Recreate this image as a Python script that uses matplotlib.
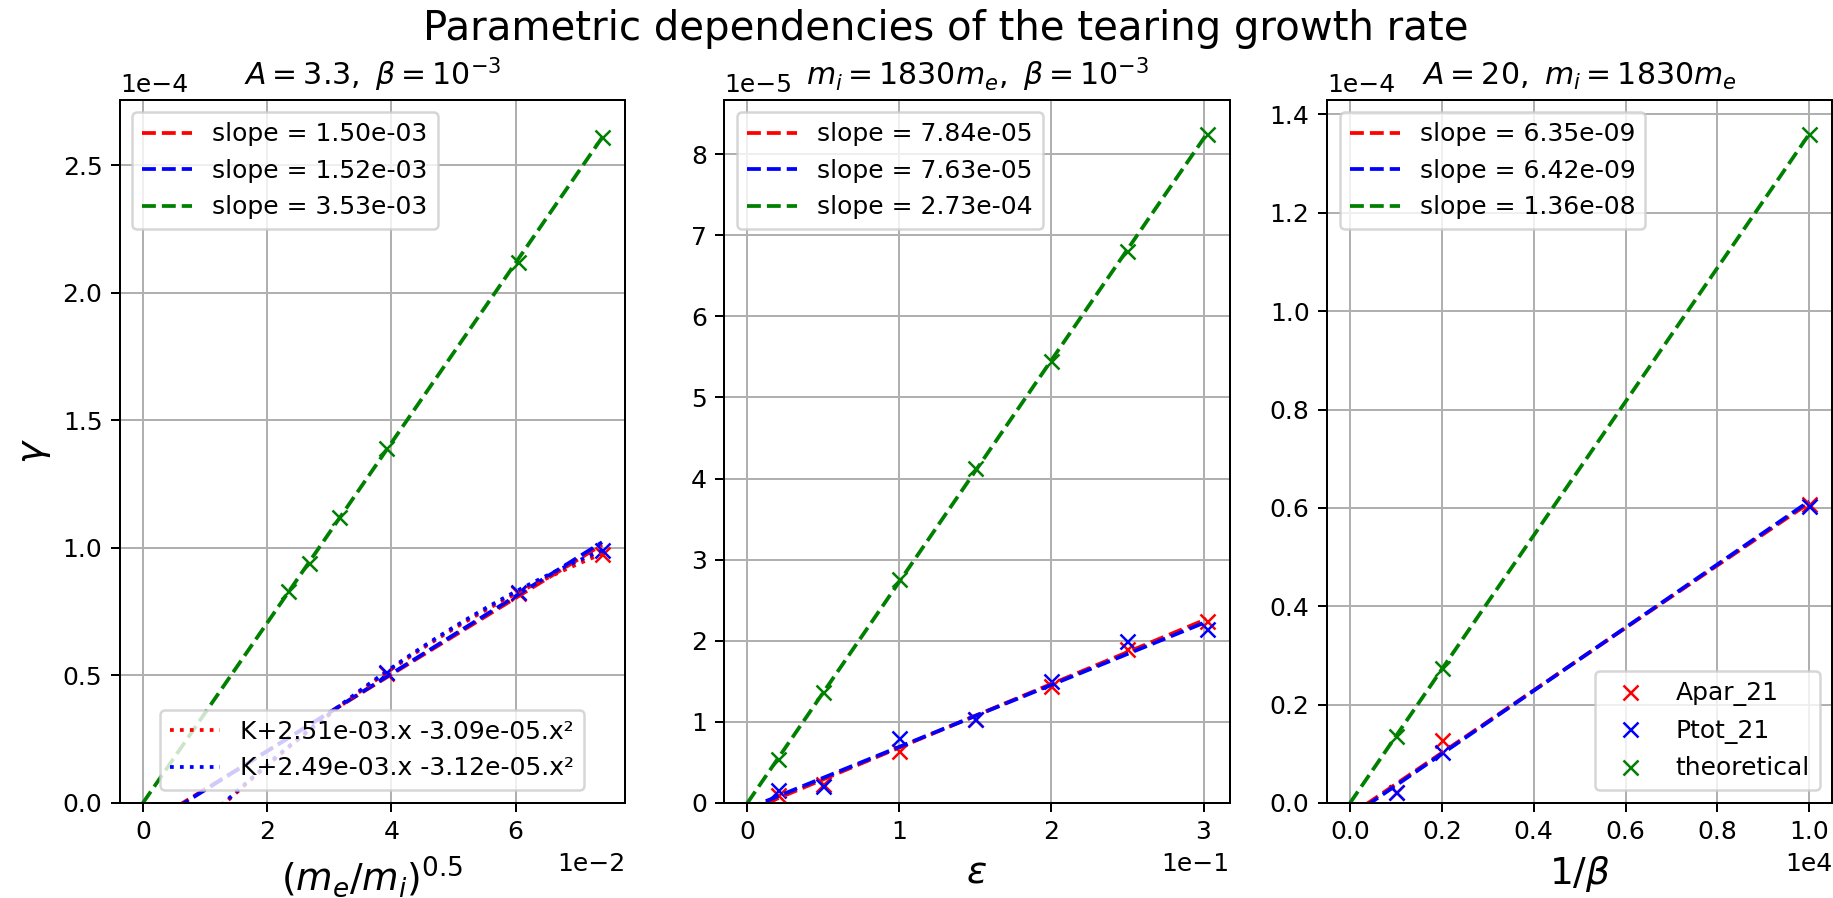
import numpy as np
import matplotlib
matplotlib.use('Agg')
import matplotlib.pyplot as plt

# Scan 1: mass ratio (A = 3.3, beta = 1e-3)
sqrt_me_mi = np.array([0.0234, 0.0267, 0.0316, 0.0392, 0.0603, 0.0739])
gam_theo_mass = np.array([0.83e-4, 0.94e-4, 1.12e-4, 1.39e-4, 2.12e-4, 2.61e-4])
sqrt_me_mi_sim = np.array([0.0392, 0.0603, 0.0739])
gam_apar_mass = np.array([0.508e-4, 0.823e-4, 0.975e-4])
gam_ptot_mass = np.array([0.512e-4, 0.827e-4, 0.990e-4])
slope_mass = [1.50e-3, 1.52e-3, 3.53e-3]
icpt_mass = [-0.96e-5, -1.01e-5, 0.0]
# quadratic fits K + a.x + b.x^2 (K, a, b)
quad_mass = [[-3.14e-5, 2.51e-3, -1.033e-2],
             [-3.08e-5, 2.49e-3, -0.992e-2]]
quad_labels = ['K+2.51e-03.x -3.09e-05.x²', 'K+2.49e-03.x -3.12e-05.x²']

# Scan 2: epsilon (mi = 1830 me, beta = 1e-3)
eps = np.array([0.02, 0.05, 0.10, 0.15, 0.20, 0.25, 0.302])
gam_apar_eps = np.array([0.096, 0.24, 0.645, 1.03, 1.44, 1.90, 2.24])*1e-5
gam_ptot_eps = np.array([0.157, 0.21, 0.80, 1.03, 1.51, 2.00, 2.14])*1e-5
gam_theo_eps = np.array([0.546, 1.37, 2.76, 4.13, 5.45, 6.81, 8.25])*1e-5
slope_eps = [7.84e-5, 7.63e-5, 2.73e-4]
icpt_eps = [-0.10e-5, -0.07e-5, 0.0]

# Scan 3: 1/beta (A = 20, mi = 1830 me)
inv_beta = np.array([1000, 2000, 10000])
gam_apar_beta = np.array([0.022, 0.128, 0.607])*1e-4
gam_ptot_beta = np.array([0.022, 0.104, 0.603])*1e-4
gam_theo_beta = np.array([0.137, 0.275, 1.36])*1e-4
slope_beta = [6.35e-9, 6.42e-9, 1.36e-8]
icpt_beta = [-0.025e-4, -0.0285e-4, 0.0]

names = ['Apar_21', 'Ptot_21', 'theoretical']
cols = ['r', 'b', 'g']

titles = [r'$A=3.3,\ \beta=10^{-3}$', r'$m_i=1830m_e,\ \beta=10^{-3}$', r'$A=20,\ m_i=1830m_e$']
xlabels = [r'$(m_e/m_i)^{0.5}$', r'$\varepsilon$', r'$1/\beta$']

DPI = 180
fig = plt.figure(figsize=(1834/DPI, 898/DPI), dpi=DPI)
lefts = [0.0654, 0.3950, 0.7236]
axs = [fig.add_axes([l, 0.1058, 0.2754, 0.7829]) for l in lefts]

def scan(ax, xs, ys, slopes, icpts):
  hh = []
  for ii in range(3):
    hh.append(ax.plot(xs[ii], ys[ii], cols[ii] + 'x', label=names[ii])[0])
  xx = np.linspace(0.0, max(np.max(x) for x in xs), 100)
  ll = []
  for ii in range(3):
    ll.append(ax.plot(xx, slopes[ii]*xx + icpts[ii], cols[ii] + '--',
                      label='slope = {:.2e}'.format(slopes[ii]))[0])
  return hh, ll, xx

# Mass ratio
ax = axs[0]
hh, ll, xx = scan(ax, [sqrt_me_mi_sim, sqrt_me_mi_sim, sqrt_me_mi],
                  [gam_apar_mass, gam_ptot_mass, gam_theo_mass], slope_mass, icpt_mass)
qq = []
for ii in range(2):
  kk, aa, bb = quad_mass[ii]
  qq.append(ax.plot(xx, kk + aa*xx + bb*xx**2, cols[ii] + ':', label=quad_labels[ii])[0])
leg = ax.legend(handles=ll, loc='upper left')
ax.add_artist(leg)
ax.legend(handles=qq, loc='lower center')
ax.set_ylabel(r'$\gamma$', fontsize=15)

# Epsilon
ax = axs[1]
hh, ll, xx = scan(ax, [eps, eps, eps], [gam_apar_eps, gam_ptot_eps, gam_theo_eps],
                  slope_eps, icpt_eps)
ax.legend(handles=ll, loc='upper left')

# Beta
ax = axs[2]
hh, ll, xx = scan(ax, [inv_beta, inv_beta, inv_beta],
                  [gam_apar_beta, gam_ptot_beta, gam_theo_beta], slope_beta, icpt_beta)
leg = ax.legend(handles=ll, loc='upper left')
ax.add_artist(leg)
ax.legend(handles=hh, loc='lower right')

for ii, ax in enumerate(axs):
  ax.set_ylim(bottom=0.0)
  ax.ticklabel_format(style='sci', axis='both', scilimits=(0, 0))
  ax.set_title(titles[ii], fontsize=12)
  ax.set_xlabel(xlabels[ii], fontsize=15)
  ax.grid()

fig.suptitle('Parametric dependencies of the tearing growth rate', fontsize=16.1, x=0.5155, y=0.99)

fig.savefig('out.png', dpi=DPI)
